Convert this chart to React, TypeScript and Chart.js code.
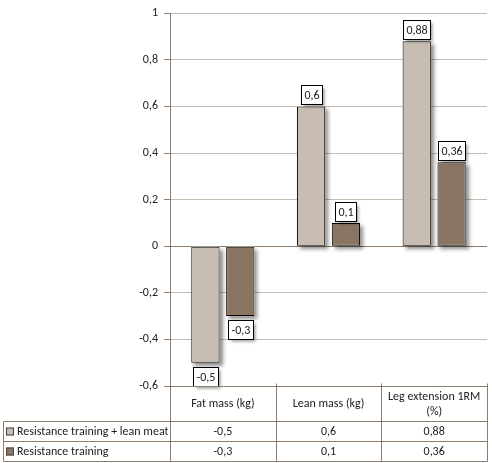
import { useEffect, useRef } from 'react';
import { Chart, registerables } from 'chart.js';

Chart.register(...registerables);

const categories = [['Fat mass (kg)'], ['Lean mass (kg)'], ['Leg extension 1RM', '(%)']];
const seriesNames = ['Resistance training + lean meat', 'Resistance training'];
const leanMeat = [-0.5, 0.6, 0.88];
const training = [-0.3, 0.1, 0.36];
const barColors = ['#c7bdb2', '#8a7462'];

const FONT = 'Carlito, Calibri, "Liberation Sans", sans-serif';
const SIZE = 12;
const AXIS = '#8e7e6e';
const GRID = '#c6bcb0';

const fmt = (v: number) => String(Number(v.toFixed(2))).replace('.', ',');

const barShadow = {
  id: 'barShadow',
  beforeDatasetsDraw(chart: any) {
    const ctx = chart.ctx;
    ctx.save();
    ctx.shadowColor = 'rgba(0,0,0,0.45)';
    ctx.shadowBlur = 4;
    ctx.shadowOffsetX = 3;
    ctx.shadowOffsetY = 3;
    ctx.fillStyle = '#fff';
    chart.data.datasets.forEach((_: any, i: number) => {
      chart.getDatasetMeta(i).data.forEach((el: any) => {
        const top = Math.min(el.y, el.base);
        ctx.fillRect(el.x - el.width / 2, top, el.width, Math.abs(el.base - el.y));
      });
    });
    ctx.restore();
  },
};

const boxLabels = {
  id: 'boxLabels',
  afterDatasetsDraw(chart: any) {
    const ctx = chart.ctx;
    ctx.save();
    ctx.font = `${SIZE}px ${FONT}`;
    ctx.textAlign = 'center';
    ctx.textBaseline = 'middle';
    chart.data.datasets.forEach((ds: any, i: number) => {
      chart.getDatasetMeta(i).data.forEach((el: any, j: number) => {
        const v = ds.data[j];
        const text = fmt(v);
        const w = Math.round(ctx.measureText(text).width + 6);
        const h = 19;
        const left = Math.round(el.x - w / 2) + 0.5;
        const top = v >= 0 ? Math.round(el.y - 2 - h) + 0.5 : Math.round(el.y + 4) + 0.5;
        ctx.save();
        ctx.shadowColor = 'rgba(0,0,0,0.4)';
        ctx.shadowBlur = 3;
        ctx.shadowOffsetX = 2;
        ctx.shadowOffsetY = 2;
        ctx.fillStyle = '#fff';
        ctx.fillRect(left, top, w, h);
        ctx.restore();
        ctx.strokeStyle = '#000';
        ctx.lineWidth = 1;
        ctx.strokeRect(left, top, w, h);
        ctx.fillStyle = '#222';
        ctx.fillText(text, left + w / 2, top + h / 2 + 1);
      });
    });
    ctx.restore();
  },
};

const dataTable = {
  id: 'dataTable',
  afterDraw(chart: any) {
    const ctx = chart.ctx;
    const area = chart.chartArea;
    const x = chart.scales.x;
    const n = chart.data.labels.length;
    const cw = (x.right - x.left) / n;
    const leftEdge = 3.5;
    const right = Math.round(area.right) + 0.5;
    const y0 = Math.round(area.bottom) + 0.5;
    const y1 = y0 + 35;
    const rowH = 20;
    ctx.save();
    ctx.strokeStyle = AXIS;
    ctx.lineWidth = 1;
    ctx.beginPath();
    ctx.moveTo(Math.round(area.left) + 0.5, y0);
    ctx.lineTo(right, y0);
    for (let r = 0; r <= seriesNames.length; r++) {
      ctx.moveTo(leftEdge, y1 + r * rowH);
      ctx.lineTo(right, y1 + r * rowH);
    }
    for (let i = 0; i <= n; i++) {
      const vx = Math.round(x.left + i * cw) + 0.5;
      ctx.moveTo(vx, y0 - (i === 0 ? 0 : 3));
      ctx.lineTo(vx, y1 + seriesNames.length * rowH);
    }
    ctx.moveTo(leftEdge, y1);
    ctx.lineTo(leftEdge, y1 + seriesNames.length * rowH);
    ctx.stroke();

    ctx.font = `${SIZE}px ${FONT}`;
    ctx.fillStyle = '#222';
    ctx.textBaseline = 'middle';
    ctx.textAlign = 'center';
    chart.data.labels.forEach((lab: string[], i: number) => {
      const cx = x.getPixelForValue(i);
      const mid = (y0 + y1) / 2;
      lab.forEach((line, k) => {
        ctx.fillText(line, cx, mid + (k - (lab.length - 1) / 2) * 15);
      });
    });
    chart.data.datasets.forEach((ds: any, r: number) => {
      const cy = y1 + r * rowH + rowH / 2;
      ds.data.forEach((v: number, i: number) => {
        ctx.textAlign = 'center';
        ctx.fillText(fmt(v), x.getPixelForValue(i), cy);
      });
      ctx.fillStyle = ds.backgroundColor;
      ctx.fillRect(6, cy - 4, 8, 8);
      ctx.strokeStyle = '#444';
      ctx.strokeRect(6.5, cy - 3.5, 7, 7);
      ctx.fillStyle = '#222';
      ctx.textAlign = 'left';
      ctx.fillText(ds.label, 17, cy);
    });
    ctx.restore();
  },
};

export default function App() {
  const canvasRef = useRef<HTMLCanvasElement | null>(null);
  const chartRef = useRef<Chart | null>(null);

  useEffect(() => {
    const ctx = canvasRef.current?.getContext('2d');
    if (!ctx) return;
    if (chartRef.current) chartRef.current.destroy();

    chartRef.current = new Chart(ctx, {
      type: 'bar',
      data: {
        labels: categories as any,
        datasets: [
          { label: seriesNames[0], data: leanMeat, backgroundColor: barColors[0] },
          { label: seriesNames[1], data: training, backgroundColor: barColors[1] },
        ].map((d) => ({
          ...d,
          borderColor: '#000',
          borderWidth: 1,
          borderSkipped: false,
          categoryPercentage: 0.66,
          barPercentage: 0.81,
        })),
      },
      options: {
        responsive: true,
        maintainAspectRatio: false,
        animation: false,
        layout: { padding: { top: 10, right: 5, left: 0, bottom: 0 } },
        plugins: {
          legend: { display: false },
          tooltip: { enabled: false },
        },
        scales: {
          x: {
            grid: { display: false },
            border: { display: false },
            ticks: { display: false },
            afterFit: (s: any) => {
              s.height = 77;
            },
          },
          y: {
            min: -0.6,
            max: 1,
            border: { color: AXIS, width: 1 },
            grid: {
              color: (c: any) => (Math.abs(c.tick?.value ?? 1) < 1e-9 ? AXIS : GRID),
              tickColor: AXIS,
              tickLength: 6,
            },
            ticks: {
              stepSize: 0.2,
              padding: 6,
              color: '#222',
              font: { family: FONT, size: SIZE },
              callback: (v: any) => fmt(Number(v)),
            },
            afterFit: (s: any) => {
              s.width = 170;
            },
          },
        },
      },
      plugins: [barShadow, boxLabels, dataTable],
    });

    return () => {
      if (chartRef.current) chartRef.current.destroy();
      chartRef.current = null;
    };
  }, []);

  return (
    <div style={{ position: 'fixed', left: 0, top: 0, width: 492, height: 463, background: '#fff' }}>
      <canvas ref={canvasRef} />
    </div>
  );
}
